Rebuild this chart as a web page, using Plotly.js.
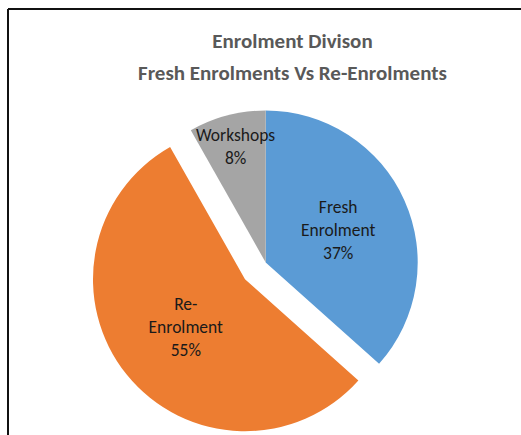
<!DOCTYPE html>
<html>
<head>
<meta charset="utf-8">
<script src="https://cdn.plot.ly/plotly-3.0.1.min.js"></script>
<style>
  html, body { margin: 0; padding: 0; overflow: hidden; background: #fff; }
  #chart { width: 521px; height: 445px; }
</style>
</head>
<body>
<div id="chart"></div>
<script>
// ---- data ----
var categories = ["Fresh Enrolment", "Re-Enrolment", "Workshops"];
var displayText = ["Fresh<br>Enrolment", "Re-<br>Enrolment", "Workshops"];
var values = [36.6, 55.2, 8.2];
var pulls = [0, 0.175, 0];
var colors = ["#5B9BD5", "#ED7D31", "#A5A5A5"];
var titleLines = ["Enrolment Divison", "Fresh Enrolments Vs Re-Enrolments"];

// ---- layout geometry (pixels) ----
var W = 521, H = 445;
var cx = 265.7, cy = 262.5, R = 152;
var half = R * (1 + 0.175);
var font = "Carlito, Lato, 'Open Sans', sans-serif";
var labelSize = 17.5;

var trace = {
  type: "pie",
  labels: categories,
  values: values,
  text: displayText,
  texttemplate: "%{text}<br>%{percent:.0%}",
  textposition: ["inside", "inside", "none"],
  insidetextorientation: "horizontal",
  textfont: { family: font, size: labelSize, color: "#1a1a1a" },
  marker: { colors: colors, line: { width: 0 } },
  pull: pulls,
  sort: false,
  direction: "clockwise",
  rotation: 0,
  hoverinfo: "label+percent",
  domain: {
    x: [(cx - half) / W, (cx + half) / W],
    y: [(H - (cy + half)) / H, (H - (cy - half)) / H]
  },
  showlegend: false
};

var total = values.reduce(function (a, b) { return a + b; }, 0);
var gi = 2;
var layout = {
  width: W,
  height: H,
  margin: { l: 0, r: 0, t: 0, b: 0 },
  paper_bgcolor: "#ffffff",
  showlegend: false,
  title: {
    text: "<b>" + titleLines[0] + "</b>",
    font: { family: font, size: 21, color: "#595959" },
    x: 292.5 / W,
    xanchor: "center",
    y: 1 - 41 / H,
    yanchor: "middle"
  },
  annotations: [{
    xref: "paper", yref: "paper",
    x: 292.5 / W, y: 1 - 73 / H,
    xanchor: "center", yanchor: "middle",
    text: "<b>" + titleLines[1] + "</b>",
    showarrow: false,
    font: { family: font, size: 21, color: "#595959" }
  }, {
    xref: "paper", yref: "paper",
    x: 235 / W, y: 1 - 146 / H,
    xanchor: "center", yanchor: "middle",
    text: displayText[gi] + "<br>" + Math.round(values[gi] / total * 100) + "%",
    showarrow: false,
    font: { family: font, size: labelSize, color: "#1a1a1a" }
  }],
  shapes: [
    { type: "line", xref: "paper", yref: "paper", x0: 8 / W, x1: 1, y0: 1 - 9 / H, y1: 1 - 9 / H,
      line: { color: "#111111", width: 2 } },
    { type: "line", xref: "paper", yref: "paper", x0: 8 / W, x1: 8 / W, y0: 1 - 9 / H, y1: 0,
      line: { color: "#111111", width: 2 } }
  ]
};

Plotly.newPlot("chart", [trace], layout, { displayModeBar: false, responsive: false });
</script>
</body>
</html>
